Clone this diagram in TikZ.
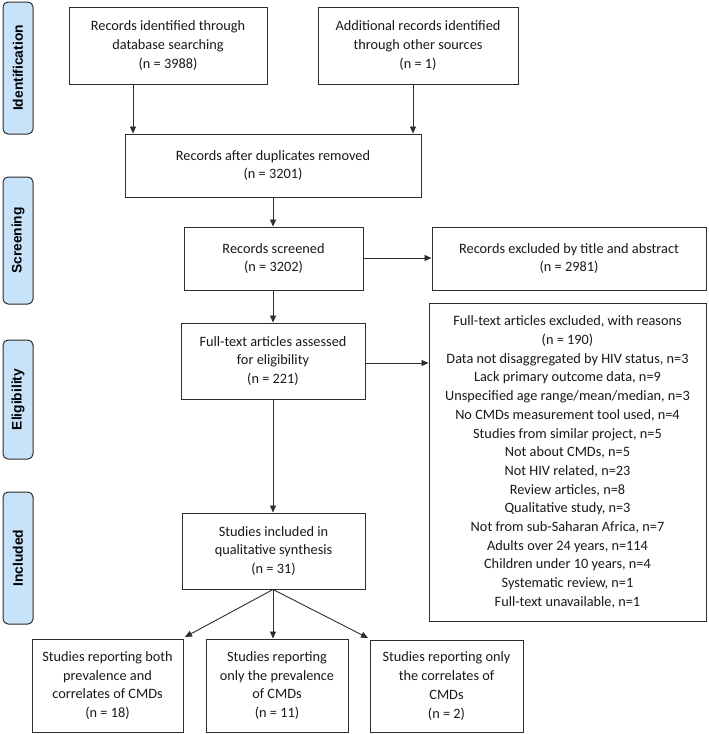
\documentclass[tikz,border=0pt]{standalone}
\usepackage{fontspec}
\setmainfont{Carlito}
\newfontfamily\labelfont{Liberation Sans}
\usetikzlibrary{arrows.meta}
\definecolor{sidefill}{RGB}{199,226,249}
\definecolor{lineclr}{RGB}{45,45,45}
\definecolor{txtclr}{RGB}{25,25,25}
\begin{document}
\begin{tikzpicture}[x=1pt,y=-1pt,
  box/.style={draw=lineclr, line width=1pt, fill=white, inner sep=0pt, align=center,
    text=txtclr, font=\fontsize{14.3}{18.7}\selectfont},
  sidebox/.style={draw=lineclr, line width=1pt, fill=sidefill, rounded corners=5pt},
  sidelabel/.style={rotate=90, text=black, font=\labelfont\bfseries\fontsize{13.8}{16}\selectfont},
  arr/.style={draw=lineclr, line width=0.9pt, -{Triangle[length=7pt,width=6pt]}}]
\useasboundingbox (0,0) rectangle (709,734);

% side phase boxes
\draw[sidebox] (3,2) rectangle (33,134);
\node[sidelabel] (l1) at (18,68) {Identification};
\draw[sidebox] (3,177) rectangle (33,304);
\node[sidelabel] (l2) at (18,240.5) {Screening};
\draw[sidebox] (3,340) rectangle (33,459);
\node[sidelabel] (l3) at (18,399.5) {Eligibility};
\draw[sidebox] (3,492) rectangle (33,624);
\node[sidelabel] (l4) at (18,558) {Included};

% main boxes
\node[box, minimum width=198pt, minimum height=77pt] (b1) at (168,45.5)
  {Records identified through\\database searching\\(n = 3988)};
\node[box, minimum width=200pt, minimum height=77pt] (b2) at (418,45.5)
  {Additional records identified\\through other sources\\(n = 1)};
\node[box, minimum width=296pt, minimum height=63pt] (b3) at (273,165.5)
  {Records after duplicates removed\\(n = 3201)};
\node[box, minimum width=179pt, minimum height=63pt] (b4) at (273.5,258.5)
  {Records screened\\(n = 3202)};
\node[box, minimum width=274pt, minimum height=63pt] (b5) at (569,258.5)
  {Records excluded by title and abstract\\(n = 2981)};
\node[box, minimum width=184pt, minimum height=76pt] (b6) at (273,361)
  {Full-text articles assessed\\for eligibility\\(n = 221)};
\node[box, minimum width=277pt, minimum height=318pt] (b7) at (567.5,462)
  {Full-text articles excluded, with reasons\\(n = 190)\\
   Data not disaggregated by HIV status, n=3\\
   Lack primary outcome data, n=9\\
   Unspecified age range/mean/median, n=3\\
   No CMDs measurement tool used, n=4\\
   Studies from similar project, n=5\\
   Not about CMDs, n=5\\
   Not HIV related, n=23\\
   Review articles, n=8\\
   Qualitative study, n=3\\
   Not from sub-Saharan Africa, n=7\\
   Adults over 24 years, n=114\\
   Children under 10 years, n=4\\
   Systematic review, n=1\\
   Full-text unavailable, n=1};
\node[box, minimum width=183pt, minimum height=76pt] (b8) at (273.5,551)
  {Studies included in\\qualitative synthesis\\(n = 31)};
\node[box, minimum width=151pt, minimum height=93pt] (b9) at (107.5,685.5)
  {Studies reporting both\\prevalence and\\correlates of CMDs\\(n = 18)};
\node[box, minimum width=142pt, minimum height=93pt] (b10) at (277,685.5)
  {Studies reporting\\only the prevalence\\of CMDs\\(n = 11)};
\node[box, minimum width=153pt, minimum height=92pt] (b11) at (446.5,686)
  {Studies reporting only\\the correlates of\\CMDs\\(n = 2)};

% helper coordinates
\coordinate (x1) at (133,0);
\coordinate (x2) at (413,0);
\coordinate (xc) at (273,0);
\coordinate (t9) at (185,637);
\coordinate (t11) at (368,638);

% connectors
\draw[arr] (b1.south -| x1) -- (b3.north -| x1);
\draw[arr] (b2.south -| x2) -- (b3.north -| x2);
\draw[arr] (b3.south -| xc) -- (b4.north -| xc);
\draw[arr] (b4.east |- 0,258) -- (b5.west |- 0,258);
\draw[arr] (b4.south -| xc) -- (b6.north -| xc);
\draw[arr] (b6.east |- 0,363) -- (b7.west |- 0,363);
\draw[arr] (b6.south -| xc) -- (b8.north -| xc);
\draw[arr] (b8.south -| xc) -- (t9);
\draw[arr] (b8.south -| xc) -- (b10.north -| xc);
\draw[arr] (b8.south -| xc) -- (t11);
\end{tikzpicture}
\end{document}
